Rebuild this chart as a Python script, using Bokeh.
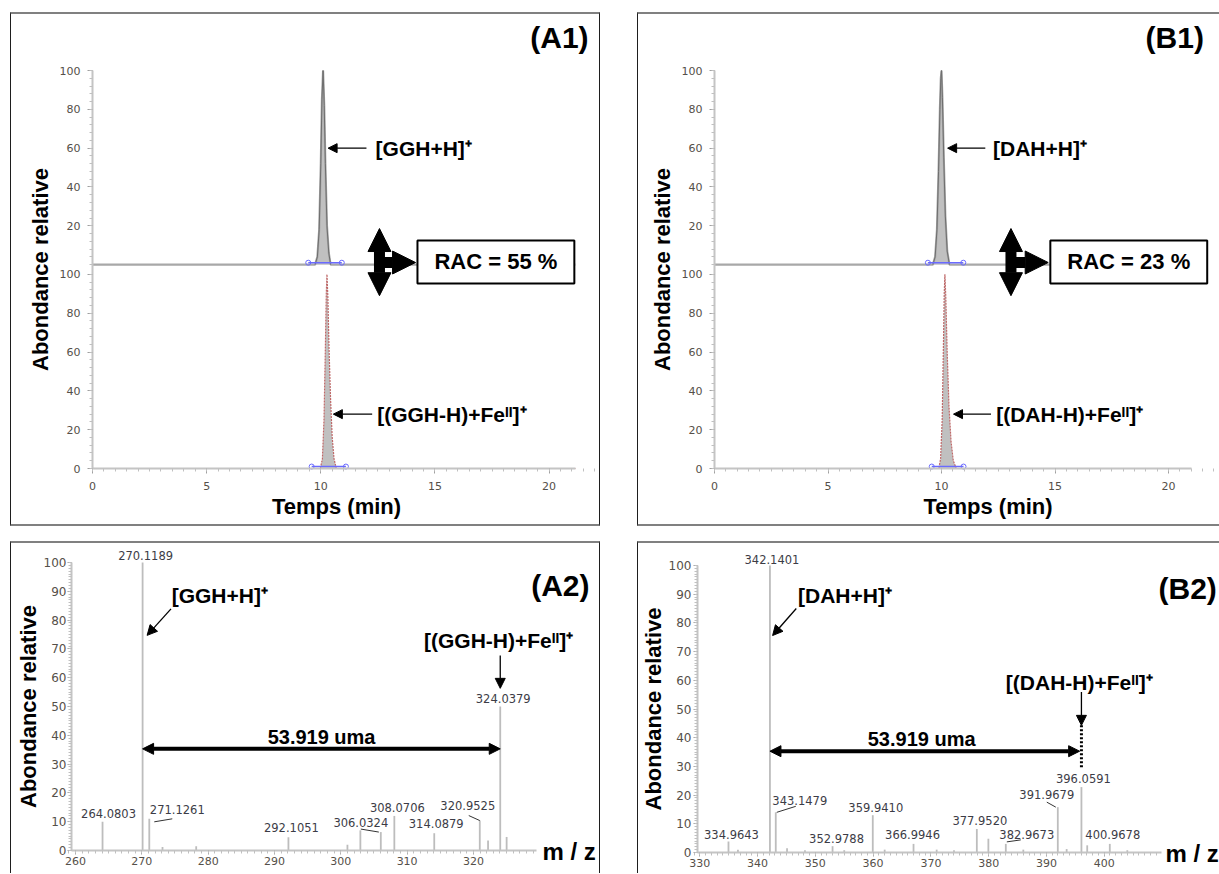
from bokeh.plotting import figure
from bokeh.models import (Range1d, FixedTicker, Label, LabelSet, Arrow, NormalHead,
                          ColumnDataSource)
from bokeh.layouts import row, column
from bokeh.embed import file_html
from bokeh.resources import INLINE
from bokeh.core.properties import value

FONT = "Liberation Sans"
TICK_FONT = "DejaVu Sans"

# ---------------- data ----------------
time_ticks = [0, 5, 10, 15, 20]
rel_ticks = [0, 20, 40, 60, 80, 100]

# (A1) chromatograms, GGH
a1_top_t = [0.0, 9.75, 9.85, 9.93, 10.0, 10.05, 10.1, 10.15, 10.2, 10.27, 10.35, 10.43, 21.15]
a1_top_i = [0, 0, 4, 18, 52, 85, 100, 82, 52, 20, 6, 0, 0]
a1_bot_t = [0.0, 9.98, 10.07, 10.14, 10.2, 10.24, 10.27, 10.31, 10.36, 10.43, 10.5, 10.58, 10.68, 21.15]
a1_bot_i = [0, 0, 5, 25, 62, 90, 100, 88, 62, 35, 16, 5, 0, 0]
a1_top_window = [9.45, 10.92]
a1_bot_window = [9.6, 11.1]
a1_rac = "RAC = 55 %"
a1_ions = ["[GGH+H]⁺", "[(GGH-H)+Feᴵᴵ]⁺"]

# (B1) chromatograms, DAH
b1_top_t = [0.0, 9.62, 9.72, 9.8, 9.87, 9.93, 9.97, 10.0, 10.04, 10.1, 10.17, 10.25, 10.35, 21.0]
b1_top_i = [0, 0, 4, 18, 48, 80, 96, 100, 86, 55, 25, 7, 0, 0]
b1_bot_t = [0.0, 9.88, 9.96, 10.03, 10.08, 10.12, 10.15, 10.19, 10.25, 10.33, 10.42, 10.52, 10.65, 21.0]
b1_bot_i = [0, 0, 5, 25, 60, 90, 100, 88, 60, 32, 14, 4, 0, 0]
b1_top_window = [9.4, 10.96]
b1_bot_window = [9.57, 10.97]
b1_rac = "RAC = 23 %"
b1_ions = ["[DAH+H]⁺", "[(DAH-H)+Feᴵᴵ]⁺"]

# (A2) mass spectrum, GGH
a2_mz = [264.0803, 270.1189, 271.1261, 273.12, 278.2, 292.1051, 301.0, 302.95,
         306.0324, 308.0706, 314.0879, 320.9525, 322.2, 324.0379, 325.0]
a2_int = [10.0, 100.0, 11.0, 1.2, 1.5, 4.6, 2.0, 7.0, 6.4, 12.0, 6.0, 10.4, 3.5, 50.0, 4.7]
a2_labelled = [264.0803, 270.1189, 271.1261, 292.1051, 306.0324, 308.0706,
               314.0879, 320.9525, 324.0379]
a2_ticks = [260, 270, 280, 290, 300, 310, 320]

# (B2) mass spectrum, DAH
b2_mz = [334.9643, 336.6, 342.1401, 343.1479, 345.1, 348.2, 352.9788, 355.0, 359.9410,
         362.0, 366.9946, 371.0, 374.0, 377.9520, 379.95, 382.9673, 386.0, 391.9679,
         393.5, 396.0591, 397.06, 400.9678, 404.0]
b2_int = [3.8, 1.0, 100.0, 14.0, 1.5, 0.8, 2.2, 0.8, 13.0, 1.0, 3.0, 1.0, 0.8, 8.2, 4.8,
          3.0, 1.0, 15.8, 1.2, 22.8, 2.5, 3.0, 0.8]
b2_labelled = [334.9643, 342.1401, 343.1479, 352.9788, 359.9410, 366.9946, 377.9520,
               382.9673, 391.9679, 396.0591, 400.9678]
b2_ticks = [330, 340, 350, 360, 370, 380, 390, 400]

delta_text = "53.919 uma"
spec_ticks = [0, 10, 20, 30, 40, 50, 60, 70, 80, 90, 100]

# ---------------- layout / style (pixels) ----------------
a2_label_off = {264.0803: (6, 4), 270.1189: (3, 3), 271.1261: (28, 5), 292.1051: (3, 5),
                306.0324: (-20, 5), 308.0706: (3, 4), 314.0879: (2, 5),
                320.9525: (-12, 11), 324.0379: (3, 4)}
b2_label_off = {334.9643: (3, 3), 342.1401: (2, 2), 343.1479: (24, 7), 352.9788: (4, 3),
                359.9410: (3, 3), 366.9946: (-1, 5), 377.9520: (3, 4), 382.9673: (21, 5),
                391.9679: (-11, 8), 396.0591: (2, 4), 400.9678: (3, 5)}
a2_leaders = {271.1261: (5, -3, 23, 0), 306.0324: (-20, 3, -2, 0), 320.9525: (-11, 5, 0, 0)}
b2_leaders = {343.1479: (1, 0, 20, 6), 382.9673: (1, 2, 15, 4), 391.9679: (-11, 5, -2, 0)}

UPPER_OFFSET = 105  # vertical position of the upper trace's baseline
CH_H = 510          # chromatogram figure height
CH_Y0 = 454         # pixel (from top) of lower trace's zero
CH_PPU = 398 / 205  # pixels per intensity unit
SP_H = 330          # spectrum figure height


def style_axis(ax, tick_out=5, standoff=7, size="11px"):
    ax.axis_line_color = "#c4c4c4"
    ax.axis_line_width = 2
    ax.major_tick_line_color = "#a0a0a0"
    ax.minor_tick_line_color = "#c0c0c0"
    ax.major_tick_out = tick_out
    ax.major_tick_in = 0
    ax.minor_tick_out = 3
    ax.minor_tick_in = 0
    ax.major_label_standoff = standoff
    ax.major_label_text_font = TICK_FONT
    ax.major_label_text_font_size = size
    ax.major_label_text_color = "#555049"
    ax.axis_label_text_font = FONT
    ax.axis_label_text_font_size = "22px"
    ax.axis_label_text_font_style = "bold"
    ax.axis_label_text_color = "black"


def label(p, x, y, text, size, align="left", baseline="middle", yr="default",
          bold=True, **kw):
    p.add_layout(Label(x=x, y=y, text=text, text_font=FONT, text_font_size=f"{size}px",
                       text_font_style="bold" if bold else "normal", text_align=align,
                       text_baseline=baseline, text_color="black", y_range_name=yr, **kw))


def arrow(p, x0, y0, x1, y1, width=1.3, head=9, both=False, yr="default"):
    kw = {}
    if both:
        kw["start"] = NormalHead(size=head, fill_color="black", line_color="black")
    p.add_layout(Arrow(end=NormalHead(size=head, fill_color="black", line_color="black"),
                       x_start=x0, y_start=y0, x_end=x1, y_end=y1, line_width=width,
                       line_color="black", y_range_name=yr, **kw))


def bare_figure(width, height, xr, yr):
    p = figure(width=width, height=height, x_range=Range1d(*xr), y_range=Range1d(*yr),
               output_backend="svg", toolbar_location=None,
               min_border_left=0, min_border_right=0, min_border_top=0, min_border_bottom=0)
    p.grid.visible = False
    p.outline_line_color = None
    return p


def chrom_panel(width, left_px, t_ppu, t_axis_end, top_t, top_i, bot_t, bot_i,
                top_win, bot_win, ions, rac, ann):
    y0 = -(CH_H - CH_Y0) / CH_PPU
    y1 = CH_Y0 / CH_PPU
    p = bare_figure(width, CH_H, (-left_px / t_ppu, (width - left_px) / t_ppu), (y0, y1))
    p.extra_y_ranges = {"upper": Range1d(y0 - UPPER_OFFSET, y1 - UPPER_OFFSET)}

    xa = p.xaxis[0]
    style_axis(xa, tick_out=5, standoff=8)
    xa.fixed_location = 0
    xa.bounds = (0, t_axis_end)
    xa.ticker = FixedTicker(ticks=time_ticks, minor_ticks=[k * 0.5 for k in range(45)])
    ya = p.yaxis[0]
    style_axis(ya, tick_out=5, standoff=7)
    ya.fixed_location = 0
    ya.bounds = (0, UPPER_OFFSET + 100)
    up_ticks = [UPPER_OFFSET + v for v in rel_ticks[1:]]
    ya.ticker = FixedTicker(
        ticks=rel_ticks + up_ticks,
        minor_ticks=list(range(0, 101, 4)) + list(range(UPPER_OFFSET, UPPER_OFFSET + 101, 4)))
    ya.major_label_overrides = {UPPER_OFFSET + v: str(v) for v in rel_ticks[1:]}
    ya.axis_label = "Abondance relative"
    ya.axis_label_standoff = 4

    # upper trace (baseline light grey, peak outline darker)
    p.varea(x=top_t, y1=0, y2=top_i, y_range_name="upper", fill_color="#c0c0c0")
    p.line(top_t, top_i, y_range_name="upper", line_color="#a8a8a8", line_width=2.2)
    p.line(top_t[1:-1], top_i[1:-1], y_range_name="upper", line_color="#6e6e6e", line_width=1)
    p.line(top_win, [1, 1], y_range_name="upper", line_color="#6a6aff", line_width=1.5)
    p.scatter(top_win, [1, 1], y_range_name="upper", marker="circle", size=5,
              fill_color=None, line_color="#6a6aff")
    # lower trace
    p.varea(x=bot_t, y1=0, y2=bot_i, fill_color="#c0c0c0")
    p.line(bot_t, bot_i, line_color="#c06868", line_width=1.2, line_dash="2 1")
    p.line(bot_win, [1, 1], line_color="#6a6aff", line_width=1.5)
    p.scatter(bot_win, [1, 1], marker="circle", size=5, fill_color=None, line_color="#6a6aff")

    # annotations
    arrow(p, ann["up_arrow"][0], 60, ann["up_arrow"][1], 60, yr="upper")
    label(p, ann["up_text"], 60, ions[0], 21, yr="upper")
    arrow(p, ann["lo_arrow"][0], 28, ann["lo_arrow"][1], 28)
    label(p, ann["lo_text"], 28, ions[1], 21)
    xr = ann["rac_x"]
    arrow(p, xr, 89, xr, 123.6, width=11, head=23, both=True)
    arrow(p, xr, 106.1, ann["rac_head"], 106.1, width=11, head=23)
    label(p, ann["box_x"], 106.4, rac, 22, align="center",
          background_fill_color="white", border_line_color="black", border_line_width=2,
          padding=(17, 9))
    label(p, ann["title_x"], 222, ann["title"], 30, align="right")
    label(p, ann["temps_x"], -19.6, "Temps (min)", 22, align="center")
    return p


def spectrum_panel(width, left_px, xstart, kx, y0_px, ky, xaxis_end, ticks, mz, inten,
                   labelled, offs, leaders, ann, tick_standoff, label_standoff):
    p = bare_figure(width, SP_H,
                    (xstart - left_px / kx, xstart + (width - left_px) / kx),
                    (-(SP_H - y0_px) / ky, y0_px / ky))

    xa = p.xaxis[0]
    style_axis(xa, tick_out=4, standoff=2, size="11px")
    xa.fixed_location = 0
    xa.bounds = (xstart, xaxis_end)
    xa.ticker = FixedTicker(ticks=ticks,
                            minor_ticks=list(range(int(xstart), int(xaxis_end) + 1)))
    ya = p.yaxis[0]
    style_axis(ya, tick_out=4, standoff=tick_standoff, size="12px")
    ya.fixed_location = xstart
    ya.bounds = (0, 100)
    ya.ticker = FixedTicker(ticks=spec_ticks, minor_ticks=list(range(0, 101)))
    ya.axis_label = "Abondance relative"
    ya.axis_label_standoff = label_standoff

    src = ColumnDataSource(dict(mz=mz, inten=inten))
    p.segment(x0="mz", y0=0, x1="mz", y1="inten", source=src,
              line_color="#bdbdbd", line_width=1.8)

    hts = [inten[mz.index(m)] for m in labelled]
    lsrc = ColumnDataSource(dict(x=labelled, y=hts, text=[f"{m:.4f}" for m in labelled],
                                 dx=[offs[m][0] for m in labelled],
                                 dy=[offs[m][1] for m in labelled]))
    p.add_layout(LabelSet(x="x", y="y", text="text", source=lsrc, x_offset="dx", y_offset="dy",
                          text_align="center", text_baseline="bottom",
                          text_font=value(TICK_FONT), text_font_size=value("11.5px"),
                          text_color="#3c3c46"))
    lx0, ly0, lx1, ly1 = [], [], [], []
    for m, (a, b, c, d) in leaders.items():
        h = inten[mz.index(m)]
        lx0.append(m + a / kx); ly0.append(h + b / ky)
        lx1.append(m + c / kx); ly1.append(h + d / ky)
    p.segment(x0=lx0, y0=ly0, x1=lx1, y1=ly1, line_color="#333333", line_width=1)

    base, fe = ann["base"], ann["fe"]
    label(p, ann["ion_text"][0], ann["ion_text"][1], ann["ions"][0], 21)
    arrow(p, ann["ion_arrow"][0], ann["ion_arrow"][1], ann["ion_arrow"][2], ann["ion_arrow"][3],
          head=10)
    label(p, ann["fe_text"][0], ann["fe_text"][1], ann["ions"][1], 21, align="center")
    arrow(p, fe, ann["fe_arrow"][0], fe, ann["fe_arrow"][1], head=10)
    if ann.get("dotted"):
        p.segment(x0=[fe], y0=[ann["dotted"][0]], x1=[fe], y1=[ann["dotted"][1]],
                  line_color="black", line_width=3, line_dash="2 2")
    arrow(p, base, 35.3, ann["delta_end"], 35.3, width=4, head=11, both=True)
    label(p, ann["delta_x"], 39.5, delta_text, 20, align="center")
    label(p, ann["title_x"], 92, ann["title"], 30, align="right")
    label(p, ann["mz_x"], -0.5, "m / z", 24)
    return p


# ---------------- panels ----------------
pa1 = chrom_panel(588, 81, 22.83, 21.16, a1_top_t, a1_top_i, a1_bot_t, a1_bot_i,
                  a1_top_window, a1_bot_window, a1_ions, a1_rac,
                  dict(up_arrow=(12.0, 10.32), up_text=12.4, lo_arrow=(12.25, 10.55),
                       lo_text=12.47, rac_x=12.57, rac_head=14.15, box_x=17.67,
                       title_x=21.73, title="(A1)", temps_x=10.69))
pb1 = chrom_panel(581, 76, 22.7, 21.0, b1_top_t, b1_top_i, b1_bot_t, b1_bot_i,
                  b1_top_window, b1_bot_window, b1_ions, b1_rac,
                  dict(up_arrow=(11.93, 10.27), up_text=12.27, lo_arrow=(12.18, 10.53),
                       lo_text=12.41, rac_x=13.06, rac_head=14.7, box_x=18.25,
                       title_x=21.56, title="(B1)", temps_x=12.05))

pa2 = spectrum_panel(588, 60, 259.4, 6.633, 307, 2.88, 329.5, a2_ticks, a2_mz, a2_int,
                     a2_labelled, a2_label_off, a2_leaders,
                     dict(base=a2_mz[1], fe=a2_mz[13], ions=a1_ions,
                          ion_text=(274.5, 88.5), ion_arrow=(274.4, 83.9, 270.8, 74.7),
                          fe_text=(323.8, 72.9), fe_arrow=(67.7, 56.3),
                          delta_end=a2_mz[13], delta_x=297.1, title_x=337.5, title="(A2)",
                          mz_x=330.4),
                     tick_standoff=1, label_standoff=0)
pb2 = spectrum_panel(581, 59, 329.6, 5.777, 309, 2.87, 409.9, b2_ticks, b2_mz, b2_int,
                     b2_labelled, b2_label_off, b2_leaders,
                     dict(base=b2_mz[2], fe=b2_mz[19], ions=b1_ions,
                          ion_text=(347.0, 89.5), ion_arrow=(346.7, 85.0, 342.6, 75.6),
                          fe_text=(395.7, 59.3), fe_arrow=(55.9, 44.3), dotted=(44.3, 29.2),
                          delta_end=395.75, delta_x=368.4, title_x=419.5, title="(B2)",
                          mz_x=410.6),
                     tick_standoff=2, label_standoff=0)

SIDE = "1px solid #1e1e1e"
EDGE = "2px solid #808080"
wa1 = column(pa1, styles={"border-left": SIDE, "border-right": SIDE,
                          "border-top": EDGE, "border-bottom": EDGE})
wb1 = column(pb1, styles={"border-left": SIDE, "border-top": EDGE, "border-bottom": EDGE})
wa2 = column(pa2, styles={"border-left": SIDE, "border-right": SIDE, "border-top": EDGE})
wb2 = column(pb2, styles={"border-left": SIDE, "border-top": EDGE})

root = column(row(wa1, wb1, spacing=37), row(wa2, wb2, spacing=37), spacing=15,
              margin=(12, 0, 0, 10))

open("out.html", "w").write(file_html(root, INLINE))
